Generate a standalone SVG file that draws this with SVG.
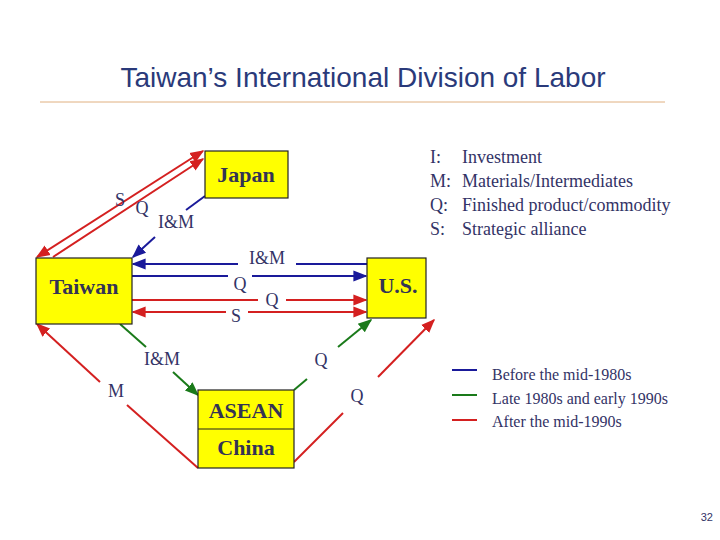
<svg xmlns="http://www.w3.org/2000/svg" width="720" height="540" viewBox="0 0 720 540">
<defs>
<marker id="ab" viewBox="0 0 10 10" refX="9" refY="5" markerWidth="7" markerHeight="7" orient="auto-start-reverse"><path d="M0,1 L10,5 L0,9 z" fill="#1a1a9a"/></marker>
<marker id="ar" viewBox="0 0 10 10" refX="9" refY="5" markerWidth="7" markerHeight="7" orient="auto-start-reverse"><path d="M0,1 L10,5 L0,9 z" fill="#d42020"/></marker>
<marker id="ag" viewBox="0 0 10 10" refX="9" refY="5" markerWidth="7" markerHeight="7" orient="auto-start-reverse"><path d="M0,1 L10,5 L0,9 z" fill="#1a7a1a"/></marker>
</defs>
<style>
.box{fill:#ffff00;stroke:#222;stroke-width:1.2}
.bt{font-family:"Liberation Serif",serif;font-weight:bold;font-size:22px;fill:#333355;text-anchor:middle}
.lb{font-family:"Liberation Serif",serif;font-size:18px;fill:#333366;text-anchor:middle}
.b{stroke:#1a1a9a;stroke-width:2;fill:none}
.r{stroke:#d42020;stroke-width:2;fill:none}
.g{stroke:#1a7a1a;stroke-width:2;fill:none}
.leg{font-family:"Liberation Serif",serif;font-size:18px;fill:#333366}
.leg2{font-family:"Liberation Serif",serif;font-size:16px;fill:#333366}
</style>
<rect width="720" height="540" fill="#fff"/>
<text x="363" y="87" font-family="Liberation Sans,sans-serif" font-size="28" fill="#2a3a7a" text-anchor="middle">Taiwan’s International Division of Labor</text>
<line x1="40" y1="102" x2="665" y2="102" stroke="#e0b080" stroke-width="1"/>
<g id="connectors">
<line class="r" x1="37" y1="257" x2="203" y2="151" marker-start="url(#ar)" marker-end="url(#ar)"/>
<line class="r" x1="53" y1="257" x2="203" y2="159" marker-end="url(#ar)"/>
<polyline class="b" points="205,196 186,210"/>
<line class="b" x1="155" y1="237" x2="133" y2="257" marker-end="url(#ab)"/>
<line class="b" x1="367" y1="264" x2="296" y2="264"/><line class="b" x1="238" y1="264" x2="133" y2="264" marker-end="url(#ab)"/>
<line class="b" x1="132" y1="276" x2="228" y2="276"/><line class="b" x1="252" y1="276" x2="366" y2="276" marker-end="url(#ab)"/>
<line class="r" x1="132" y1="300" x2="258" y2="300"/><line class="r" x1="286" y1="300" x2="366" y2="300" marker-end="url(#ar)"/>
<line class="r" x1="226" y1="312" x2="133" y2="312" marker-end="url(#ar)"/><line class="r" x1="248" y1="312" x2="366" y2="312" marker-end="url(#ar)"/>
<line class="g" x1="120" y1="324" x2="146" y2="347"/><line class="g" x1="173" y1="372" x2="198" y2="395" marker-end="url(#ag)"/>
<line class="g" x1="307" y1="379" x2="294" y2="390"/><line class="g" x1="338" y1="347" x2="371" y2="320" marker-end="url(#ag)"/>
<line class="r" x1="198" y1="468" x2="127" y2="405"/><line class="r" x1="100" y1="382" x2="37" y2="324" marker-end="url(#ar)"/>
<line class="r" x1="294" y1="462" x2="343" y2="413"/><line class="r" x1="378" y1="377" x2="434" y2="320" marker-end="url(#ar)"/>
</g>
<g id="labels">
<text class="lb" x="120" y="206">S</text>
<text class="lb" x="142" y="214">Q</text>
<text class="lb" x="176" y="228">I&amp;M</text>
<text class="lb" x="267" y="264">I&amp;M</text>
<text class="lb" x="240" y="290">Q</text>
<text class="lb" x="272" y="306">Q</text>
<text class="lb" x="236" y="322">S</text>
<text class="lb" x="162" y="365">I&amp;M</text>
<text class="lb" x="321" y="366">Q</text>
<text class="lb" x="116" y="397">M</text>
<text class="lb" x="357" y="402">Q</text>
</g>
<g id="japan"><rect class="box" x="205" y="151" width="83" height="47"/><text class="bt" x="246" y="182">Japan</text></g>
<g id="taiwan"><rect class="box" x="36" y="258" width="96" height="66"/><text class="bt" x="84" y="294">Taiwan</text></g>
<g id="us"><rect class="box" x="367" y="258" width="59" height="60"/><text class="bt" x="398" y="293">U.S.</text></g>
<g id="asean"><rect class="box" x="198" y="390" width="96" height="78"/><line x1="198" y1="429" x2="294" y2="429" stroke="#222" stroke-width="1.2"/><text class="bt" x="246" y="418">ASEAN</text><text class="bt" x="246" y="455">China</text></g>
<g id="legend">
<text class="leg" x="430" y="163">I:</text><text class="leg" x="462" y="163">Investment</text>
<text class="leg" x="430" y="187">M:</text><text class="leg" x="462" y="187">Materials/Intermediates</text>
<text class="leg" x="430" y="211">Q:</text><text class="leg" x="462" y="211">Finished product/commodity</text>
<text class="leg" x="430" y="235">S:</text><text class="leg" x="462" y="235">Strategic alliance</text>
<line class="b" x1="452" y1="370" x2="477" y2="370"/>
<line class="g" x1="452" y1="395" x2="477" y2="395"/>
<line class="r" x1="452" y1="420" x2="477" y2="420"/>
<text class="leg2" x="492" y="380">Before the mid-1980s</text>
<text class="leg2" x="492" y="404">Late 1980s and early 1990s</text>
<text class="leg2" x="492" y="427">After the mid-1990s</text>
<text x="713" y="521" font-family="Liberation Sans,sans-serif" font-size="11" fill="#333366" text-anchor="end">32</text>
</g>
</svg>
